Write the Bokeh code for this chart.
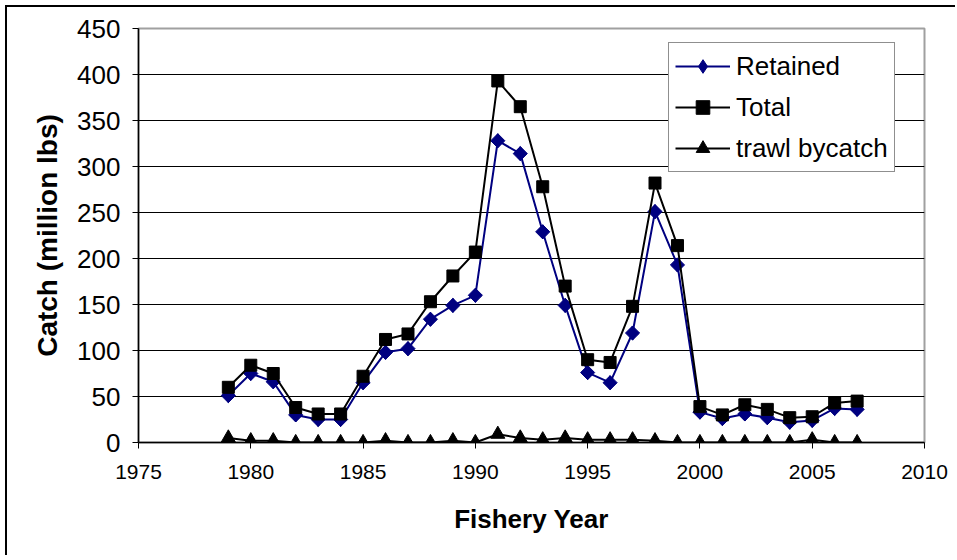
import math
from bokeh.plotting import figure
from bokeh.models import Legend, LegendItem, FixedTicker
from bokeh.embed import file_html
from bokeh.resources import INLINE

years = list(range(1979, 2008))
retained = [51, 75, 66, 30, 25, 25, 65, 98, 102, 134, 149, 160,
            328, 314, 229, 149, 76, 65, 119, 251, 193,
            33, 26, 31, 27, 22, 24, 37, 36]
total = [60, 84, 75, 38, 31, 31, 72, 112, 118, 153, 181, 207,
         393, 365, 278, 170, 90, 87, 148, 282, 214,
         39, 30, 41, 36, 27, 28, 43, 45]
trawl_bycatch = [5, 2, 2, 0, 0, 0, 0, 2, 0, 0, 2, 0,
                 9, 5, 3, 5, 3, 3, 3, 2, 0,
                 0, 0, 0, 0, 0, 3, 0, 0]
y_ticks = list(range(0, 451, 50))
x_ticks = list(range(1975, 2011, 5))

FONT = "Liberation Sans"
NAVY = "#000080"

p = figure(width=950, height=550, x_range=(1975, 2010), y_range=(0, 450),
           output_backend="svg", toolbar_location=None,
           min_border_left=131, min_border_top=21, min_border_right=33, min_border_bottom=115,
           styles={"box-shadow": "-2px -2px 0 0 black",
                   "margin-left": "7px", "margin-top": "7px"})

p.outline_line_color = "#a0a0a0"
p.outline_line_width = 2
p.background_fill_color = "white"
p.border_fill_color = "white"

p.xgrid.grid_line_color = None
p.ygrid.grid_line_color = "black"
p.ygrid.grid_line_width = 1
p.ygrid.ticker = FixedTicker(ticks=y_ticks)

p.yaxis.ticker = FixedTicker(ticks=y_ticks)
p.xaxis.ticker = FixedTicker(ticks=x_ticks)
for ax in (p.xaxis, p.yaxis):
    ax.axis_line_color = "black"
    ax.axis_line_width = 1.5
    ax.major_tick_line_color = "black"
    ax.major_tick_in = 0
    ax.major_tick_out = 6
    ax.minor_tick_line_color = None
    ax.major_label_text_font = FONT
    ax.major_label_text_color = "black"
    ax.axis_label_text_font = FONT
    ax.axis_label_text_font_style = "bold"
    ax.axis_label_text_color = "black"

p.yaxis.major_label_text_font_size = "26px"
p.xaxis.major_label_text_font_size = "21px"
p.yaxis.axis_label = "Catch (million lbs)"
p.xaxis.axis_label = "Fishery Year"
p.yaxis.axis_label_text_font_size = "28px"
p.xaxis.axis_label_text_font_size = "26px"
p.yaxis.major_label_standoff = 12
p.xaxis.major_label_standoff = 16
p.yaxis.axis_label_standoff = 11
p.xaxis.axis_label_standoff = 22

r_line = p.line(years, retained, line_color=NAVY, line_width=2)
r_key = p.scatter(years, retained, marker="diamond", size=14, fill_color=NAVY, line_color=NAVY)
r_pts = p.scatter(years, retained, marker="square", size=10, angle=math.pi / 4,
                  fill_color=NAVY, line_color=NAVY)
t_line = p.line(years, total, line_color="black", line_width=2)
t_pts = p.scatter(years, total, marker="square", size=12, fill_color="black", line_color="black")
b_line = p.line(years, trawl_bycatch, line_color="black", line_width=2)
b_pts = p.scatter(years, trawl_bycatch, marker="triangle", size=14, fill_color="black", line_color="black")

legend = Legend(items=[
    LegendItem(label="Retained", renderers=[r_line, r_key]),
    LegendItem(label="Total", renderers=[t_line, t_pts]),
    LegendItem(label="trawl bycatch", renderers=[b_line, b_pts]),
], location=(530, 270))
legend.label_text_font = FONT
legend.label_text_font_size = "26px"
legend.label_text_color = "black"
legend.glyph_width = 55
legend.glyph_height = 34
legend.label_standoff = 6
legend.spacing = 7
legend.padding = 6
legend.margin = 0
legend.border_line_color = "#202020"
legend.border_line_width = 1.5
legend.background_fill_color = "white"
legend.background_fill_alpha = 1
p.add_layout(legend, "center")

open("out.html", "w").write(file_html(p, INLINE))
